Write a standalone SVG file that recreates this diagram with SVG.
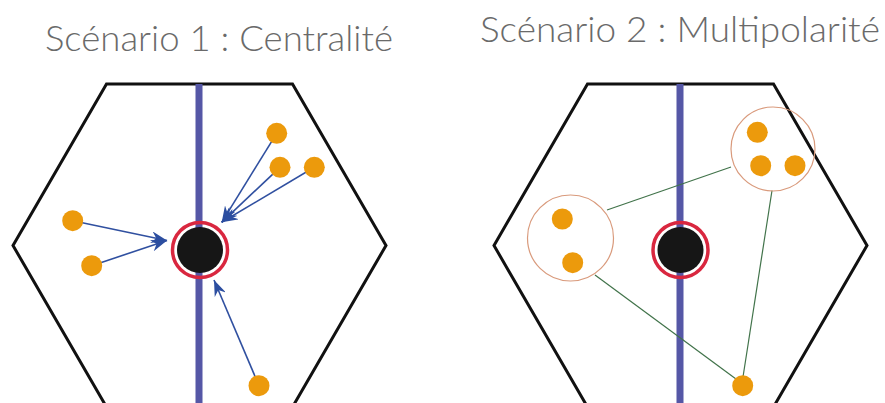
<svg xmlns="http://www.w3.org/2000/svg" width="885" height="403" viewBox="0 0 885 403">
  <style>
    .title { font-family: Lato, "Liberation Sans", sans-serif; font-weight: 300; font-size: 35px; fill: #6a6a6a; }
    .hex { fill: none; stroke: #111; stroke-width: 3; stroke-linejoin: miter; }
    .axis { stroke: #5557a6; stroke-width: 7; }
    .dot { fill: #ec9a0c; }
    .core { fill: #161616; }
    .ring { fill: none; stroke: #d9273f; stroke-width: 3.5; }
    .arrow { stroke: #3050a0; stroke-width: 1.6; fill: none; marker-end: url(#ah); }
    .link { stroke: #41734a; stroke-width: 1.2; fill: none; }
    .cluster { fill: none; stroke: #d99a7c; stroke-width: 1.2; }
  </style>
  <defs>
    <marker id="ah" viewBox="0 0 16 12" refX="16" refY="6" markerWidth="16" markerHeight="12" markerUnits="userSpaceOnUse" orient="auto">
      <path d="M0,0 L16,6 L0,12 L5,6 z" fill="#2c4ea0"/>
    </marker>
  </defs>
  <rect width="885" height="403" fill="#fff"/>

  <text class="title" x="45" y="51" textLength="348" lengthAdjust="spacingAndGlyphs">Scénario 1 : Centralité</text>
  <text class="title" x="480" y="42" textLength="400" lengthAdjust="spacingAndGlyphs">Scénario 2 : Multipolarité</text>

  <!-- Scenario 1 -->
  <g id="hex1"><polygon class="hex" points="106.5,84 292.5,84 386,245.5 292.5,407 106.5,407 13,245.5"/></g>
  <g id="axis1"><line class="axis" x1="199" y1="84" x2="199" y2="405"/></g>
  <g id="connectors1">
    <line class="arrow" x1="72.7" y1="220.7" x2="167" y2="240.5"/>
    <line class="arrow" x1="91.7" y1="265.7" x2="167" y2="240.5"/>
    <line class="arrow" x1="276.7" y1="133.3" x2="221.7" y2="222.3"/>
    <line class="arrow" x1="280" y1="167.3" x2="221.7" y2="222.3"/>
    <line class="arrow" x1="314.3" y1="167.3" x2="221.7" y2="222.3"/>
    <line class="arrow" x1="259" y1="385.7" x2="214" y2="280"/>
  </g>
  <g id="center1">
    <circle class="ring" cx="200" cy="250" r="27.5"/>
    <circle class="core" cx="200" cy="250" r="23"/>
  </g>
  <g id="dots1">
    <circle class="dot" cx="276.7" cy="133.3" r="10.5"/>
    <circle class="dot" cx="280" cy="167.3" r="10.5"/>
    <circle class="dot" cx="314.3" cy="167.3" r="10.5"/>
    <circle class="dot" cx="72.7" cy="220.7" r="10.5"/>
    <circle class="dot" cx="91.7" cy="265.7" r="10.5"/>
    <circle class="dot" cx="259" cy="385.7" r="10.5"/>
  </g>

  <!-- Scenario 2 -->
  <g id="hex2"><polygon class="hex" points="587.5,84 773.5,84 867,245.5 773.5,407 587.5,407 494,245.5"/></g>
  <g id="axis2"><line class="axis" x1="680" y1="84" x2="680" y2="405"/></g>
  <g id="connectors2">
    <line class="link" x1="607" y1="210" x2="731" y2="167"/>
    <line class="link" x1="595" y1="275" x2="736" y2="379"/>
    <line class="link" x1="772" y1="190.5" x2="743" y2="377"/>
  </g>
  <g id="center2">
    <circle class="ring" cx="680.5" cy="250" r="27.5"/>
    <circle class="core" cx="680.5" cy="250" r="23"/>
  </g>
  <g id="cluster-top">
    <circle class="cluster" cx="773" cy="149" r="42"/>
    <circle class="dot" cx="757.3" cy="132.3" r="10.5"/>
    <circle class="dot" cx="760.7" cy="165.7" r="10.5"/>
    <circle class="dot" cx="795" cy="165.7" r="10.5"/>
  </g>
  <g id="cluster-left">
    <circle class="cluster" cx="570.5" cy="238" r="43"/>
    <circle class="dot" cx="562.3" cy="219" r="10.5"/>
    <circle class="dot" cx="572.7" cy="262.7" r="10.5"/>
  </g>
  <g id="dot-bottom">
    <circle class="dot" cx="742.7" cy="385.7" r="10.5"/>
  </g>
</svg>
